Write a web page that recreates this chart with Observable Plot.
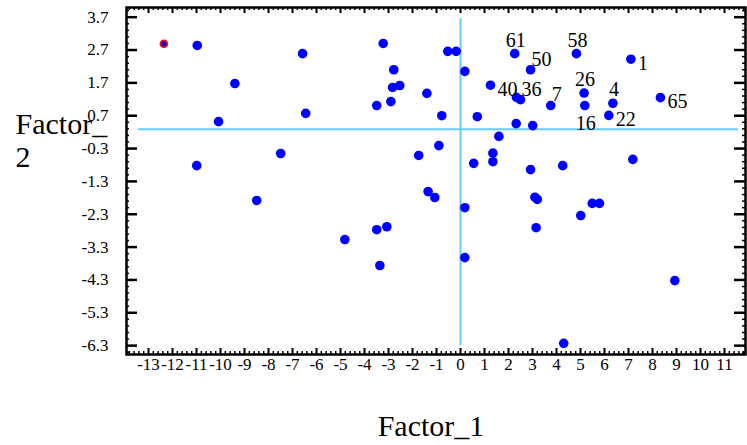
<!DOCTYPE html>
<html>
<head>
<meta charset="utf-8">
<script src="https://cdn.jsdelivr.net/npm/d3@7"></script>
<script src="https://cdn.jsdelivr.net/npm/@observablehq/plot@0.6"></script>
<style>
  html, body { margin: 0; padding: 0; background: #fff; }
  svg { display: block; }
</style>
</head>
<body>
<div id="chart"></div>
<script>
// ---- data ----
const factor1 = [-12.36, -10.97, -9.40, -10.08, -10.99, -6.58, -6.45, -7.49, -8.49, -3.22,
  -2.78, -2.83, -2.53, -2.90, -3.49, -1.40, -0.78, -0.90, -1.74, -1.35,
  -1.07, -4.82, -3.49, -3.07, -3.36, -0.53, -0.18, 0.18, 0.70, 0.18,
  0.55, 1.35, 1.35, 1.60, 2.26, 4.83, 2.92, 7.10, 1.25, 2.33,
  2.50, 3.76, 5.15, 5.18, 6.35, 6.18, 8.33, 2.32, 3.01, 2.92,
  4.26, 7.18, 3.10, 3.20, 5.49, 5.79, 0.18, 5.01, 3.15, 8.93, 4.30];
const factor2 = [2.89, 2.84, 1.68, 0.52, -0.82, 2.59, 0.77, -0.45, -1.88, 2.90,
  2.10, 1.56, 1.62, 1.13, 1.01, 1.38, 0.70, -0.21, -0.51, -1.61,
  -1.79, -3.07, -2.77, -2.68, -3.86, 2.66, 2.66, 2.05, 0.67, -3.62,
  -0.75, -0.44, -0.70, 0.07, 2.59, 2.59, 2.10, 2.42, 1.63, 1.26,
  1.19, 1.01, 1.39, 1.01, 1.08, 0.71, 1.25, 0.46, 0.40, -0.94,
  -0.82, -0.63, -1.78, -1.85, -1.97, -1.97, -2.10, -2.34, -2.71, -4.32, -6.23];
const highlightedPoint = 0;

const labelText  = ["61", "58", "50", "1", "40", "36", "7", "26", "16", "4", "22", "65"];
const labelIndex = [34, 35, 36, 37, 38, 40, 41, 42, 43, 44, 45, 46];
const labelSide  = ["N", "N", "NE", "E", "E", "NE", "NE", "N", "S", "N", "E", "E"];

const xTickValues = [-13, -12, -11, -10, -9, -8, -7, -6, -5, -4, -3, -2, -1, 0, 1, 2, 3, 4, 5, 6, 7, 8, 9, 10, 11];
const xTickLabels = ["-13", "-12", "-11", "-10", "-9", "-8", "-7", "-6", "-5", "-4", "-3", "-2", "-1", "0", "1", "2", "3", "4", "5", "6", "7", "8", "9", "10", "11"];
const yTickValues = [3.7, 2.7, 1.7, 0.7, -0.3, -1.3, -2.3, -3.3, -4.3, -5.3, -6.3];
const yTickLabels = ["3.7", "2.7", "1.7", "0.7", "-0.3", "-1.3", "-2.3", "-3.3", "-4.3", "-5.3", "-6.3"];

const xAxisTitle = "Factor_1";
const yAxisTitle = "Factor_\n2";

const hRefY = 0.29, hRefX = [-13.42, 11.58];
const vRefX = 0, vRefY = [3.66, -6.3];

// ---- layout ----
const W = 747, H = 445;
const mL = 126, mR = 2, mT = 7, mB = 91;
const frameW = W - mL - mR, frameH = H - mT - mB;
const serif = "'Liberation Serif', 'Times New Roman', serif";

const points = factor1.map((x, i) => ({x, y: factor2[i], i}));
const labels = labelText.map((t, k) => ({...points[labelIndex[k]], text: t, side: labelSide[k]}));

const xMinor = d3.range(-13.8, 11.9, 0.2).filter(v => Math.abs(v - Math.round(v)) > 0.05);
const yMinor = d3.range(-6.5, 4.0, 0.2).filter(v => !yTickValues.some(t => Math.abs(t - v) < 0.05));

const sideOpts = {
  N:  {textAnchor: "middle", dx: 1, dy: -13.4},
  S:  {textAnchor: "middle", dx: 1, dy: 17.6},
  E:  {textAnchor: "start", dx: 7, dy: 4},
  NE: {textAnchor: "start", dx: 1, dy: -10.5}
};
const labelMarks = Object.entries(sideOpts).map(([side, o]) =>
  Plot.text(labels.filter(d => d.side === side), {x: "x", y: "y", text: "text", fontSize: 20, fontFamily: serif, lineAnchor: "middle", fill: "black", ...o}));

const refColor = "#66ccff";

const chart = Plot.plot({
  width: W, height: H,
  marginLeft: mL, marginRight: mR, marginTop: mT, marginBottom: mB,
  style: {fontFamily: serif, fontSize: "17px", background: "#fff", color: "black"},
  x: {domain: [-13.917, 11.875]},
  y: {domain: [-6.57, 3.995]},
  marks: [
    Plot.ruleY([hRefY], {x1: hRefX[0], x2: hRefX[1], stroke: refColor, strokeWidth: 2}),
    Plot.ruleX([vRefX], {y1: vRefY[0], y2: vRefY[1], stroke: refColor, strokeWidth: 2}),
    // bottom / top ticks
    Plot.ruleX(xTickValues, {insetTop: frameH - 6, stroke: "black", strokeWidth: 2}),
    Plot.ruleX(xTickValues, {insetBottom: frameH - 6, stroke: "black", strokeWidth: 2}),
    Plot.ruleX(xMinor, {insetTop: frameH - 3, stroke: "black", strokeWidth: 1.5}),
    Plot.ruleX(xMinor, {insetBottom: frameH - 3, stroke: "black", strokeWidth: 1.5}),
    // left / right ticks
    Plot.ruleY(yTickValues, {insetRight: frameW - 11, stroke: "black", strokeWidth: 2.5}),
    Plot.ruleY(yTickValues, {insetLeft: frameW - 11, stroke: "black", strokeWidth: 2.5}),
    Plot.ruleY(yMinor, {insetRight: frameW - 3, stroke: "black", strokeWidth: 1.5}),
    Plot.ruleY(yMinor, {insetLeft: frameW - 3, stroke: "black", strokeWidth: 1.5}),
    Plot.frame({stroke: "black", strokeWidth: 2.5}),
    Plot.dot(points.filter(d => d.i !== highlightedPoint), {x: "x", y: "y", r: 4.8, fill: "#0000ff", stroke: null}),
    Plot.dot(points.filter(d => d.i === highlightedPoint), {x: "x", y: "y", r: 3.4, fill: "#0000ff", stroke: "#ff0000", strokeWidth: 1.8}),
    ...labelMarks,
    Plot.axisX({ticks: xTickValues, tickFormat: d => xTickLabels[xTickValues.indexOf(d)], tickSize: 0, tickPadding: 3, label: null, fontSize: 17, fontFamily: serif, fontVariant: "normal"}),
    Plot.axisY({ticks: yTickValues, tickFormat: d => yTickLabels[yTickValues.indexOf(d)], tickSize: 0, tickPadding: 18, label: null, fontSize: 17, fontFamily: serif, fontVariant: "normal"}),
    Plot.text([xAxisTitle], {text: d => d, frameAnchor: "bottom", lineAnchor: "middle", dx: -5, dy: 72, fontSize: 30, fontFamily: serif, fill: "black"}),
    Plot.text([yAxisTitle], {text: d => d, frameAnchor: "top-left", lineAnchor: "middle", textAnchor: "start", dx: -111, dy: 132, fontSize: 30, fontFamily: serif, lineHeight: 1.1, fill: "black"})
  ]
});
document.getElementById("chart").appendChild(chart);
</script>
</body>
</html>
